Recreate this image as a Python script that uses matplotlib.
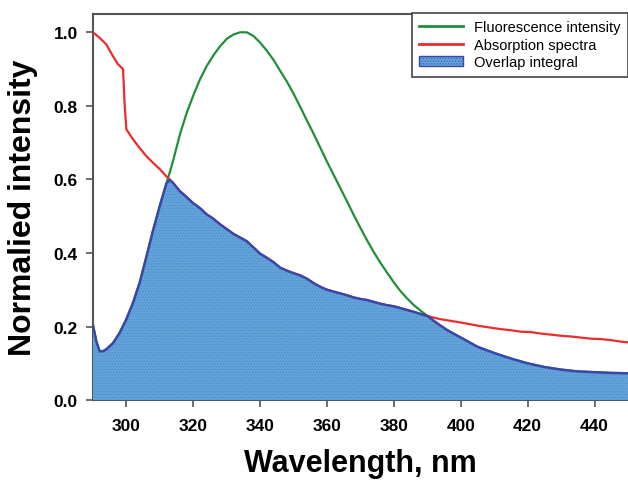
import numpy as np
import matplotlib
matplotlib.use("Agg")
import matplotlib.pyplot as plt
from matplotlib.patches import Patch
from matplotlib.lines import Line2D

plt.rcParams['font.family'] = ['Liberation Sans', 'DejaVu Sans']
plt.rcParams['hatch.linewidth'] = 0.4

# fluorescence emission (normalised)
fl_wl = [290, 291, 292, 293, 294, 296, 298, 300, 302, 304, 306, 308, 310, 312,
         313, 314, 316, 318, 320, 322, 324, 326, 328, 330, 332, 334, 336, 338,
         340, 342, 344, 346, 348, 350, 352, 354, 356, 358, 360, 362, 364, 366,
         368, 370, 372, 374, 376, 378, 380, 382, 384, 386, 388, 390, 392, 394,
         396, 398, 400, 405, 410, 415, 420, 425, 430, 435, 440, 445, 450]
fl_val = [0.204, 0.16, 0.133, 0.133, 0.138, 0.155, 0.183, 0.22, 0.265, 0.32,
          0.39, 0.462, 0.528, 0.59, 0.62, 0.652, 0.722, 0.78, 0.828, 0.872,
          0.908, 0.937, 0.962, 0.982, 0.994, 1.0, 1.0, 0.99, 0.972, 0.95,
          0.925, 0.895, 0.866, 0.833, 0.797, 0.76, 0.724, 0.686, 0.648, 0.612,
          0.576, 0.54, 0.503, 0.468, 0.434, 0.402, 0.373, 0.346, 0.32, 0.296,
          0.276, 0.258, 0.243, 0.229, 0.215, 0.202, 0.19, 0.18, 0.17, 0.145,
          0.128, 0.113, 0.10, 0.09, 0.083, 0.078, 0.076, 0.074, 0.073]

# absorption spectrum (normalised)
ab_wl = [290, 292, 294, 296, 297.5, 299, 299.5, 300, 302, 304, 306, 308, 310,
         312, 314, 316, 318, 320, 322, 324, 326, 328, 330, 332, 334, 336, 338,
         340, 342, 344, 346, 348, 350, 352, 354, 356, 358, 360, 362, 364, 366,
         368, 370, 372, 374, 376, 378, 380, 382, 384, 386, 388, 390, 392, 394,
         396, 398, 400, 403, 406, 409, 412, 415, 418, 421, 424, 427, 430, 433,
         436, 439, 442, 445, 448, 450]
ab_val = [1.0, 0.985, 0.967, 0.935, 0.913, 0.90, 0.80, 0.736, 0.709, 0.685,
          0.663, 0.645, 0.628, 0.608, 0.59, 0.568, 0.552, 0.535, 0.522, 0.505,
          0.493, 0.478, 0.465, 0.452, 0.442, 0.432, 0.415, 0.398, 0.387,
          0.375, 0.36, 0.352, 0.345, 0.339, 0.330, 0.318, 0.308, 0.300, 0.295,
          0.290, 0.285, 0.279, 0.275, 0.272, 0.267, 0.262, 0.258, 0.255, 0.250,
          0.245, 0.240, 0.234, 0.229, 0.224, 0.220, 0.217, 0.214, 0.211, 0.206,
          0.201, 0.197, 0.193, 0.190, 0.186, 0.185, 0.181, 0.178, 0.175, 0.173,
          0.170, 0.167, 0.166, 0.163, 0.159, 0.157]

x_ticks = [300, 320, 340, 360, 380, 400, 420, 440]
y_ticks = [0.0, 0.2, 0.4, 0.6, 0.8, 1.0]

green = '#1f8f3a'
red = '#ee2b2b'
fill_c = '#62a3da'
edge_c = '#3a46a8'

# overlap = pointwise minimum of the two curves
grid = np.union1d(fl_wl, ab_wl)
fl_g = np.interp(grid, fl_wl, fl_val)
ab_g = np.interp(grid, ab_wl, ab_val)
ov = np.minimum(fl_g, ab_g)

fig = plt.figure(figsize=(6.28, 4.81), dpi=100)
ax = fig.add_axes([0.148, 0.166, 0.852, 0.803])

ax.plot(fl_wl, fl_val, color=green, lw=1.6, zorder=3)
ax.plot(ab_wl, ab_val, color=red, lw=1.6, zorder=3)
ax.fill_between(grid, 0, ov, facecolor=fill_c, edgecolor='#4a86c4',
                hatch='......', lw=0, zorder=4)
ax.plot(grid, ov, color=edge_c, lw=1.8, zorder=5)

ax.set_xlim(290, 450)
ax.set_ylim(0, 1.05)
ax.set_xticks(x_ticks)
ax.set_yticks(y_ticks)
ax.set_yticklabels(['%.1f' % v for v in y_ticks])

for s in ['left', 'bottom', 'top']:
    ax.spines[s].set_color('#555555')
    ax.spines[s].set_linewidth(1.5)
ax.spines['right'].set_visible(False)
ax.tick_params(direction='out', length=5, width=1.2, color='#555555',
               labelsize=12.5, pad=6)
for lab in ax.get_xticklabels() + ax.get_yticklabels():
    lab.set_fontweight('bold')
ax.tick_params(axis='x', pad=8)

ax.set_xlabel('Wavelength, nm', fontsize=22, fontweight='bold', labelpad=11)
ax.set_ylabel('Normalied intensity', fontsize=23, fontweight='bold', labelpad=11)

handles = [Line2D([], [], color=green, lw=2),
           Line2D([], [], color=red, lw=2),
           Patch(facecolor=fill_c, edgecolor=edge_c, hatch='......', lw=1)]
leg = ax.legend(handles, ['Fluorescence intensity', 'Absorption spectra',
                          'Overlap integral'],
                loc='upper right', bbox_to_anchor=(1.0, 1.003),
                borderaxespad=0, fancybox=False, fontsize=10.5,
                handlelength=3.0, handletextpad=0.8, labelspacing=0.25,
                borderpad=0.5, framealpha=1)
leg.get_frame().set_edgecolor('#444444')
leg.get_frame().set_linewidth(1.2)
leg.set_zorder(10)

fig.savefig('out.png', dpi=100)
